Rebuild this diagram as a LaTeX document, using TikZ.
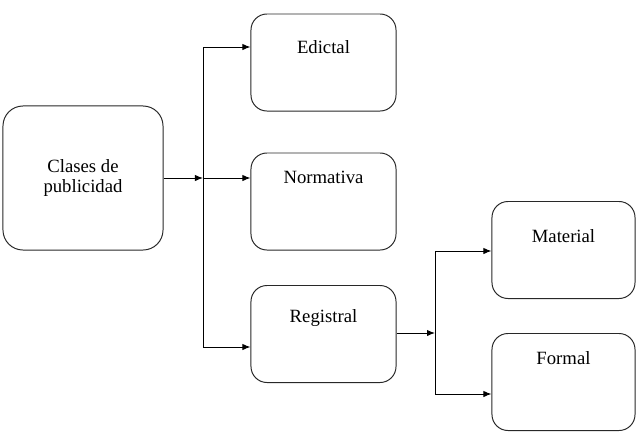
\documentclass[tikz,border=0pt]{standalone}
\usepackage{fontspec}
\setmainfont{Liberation Serif}
\usepackage{xcolor}
\definecolor{borde}{RGB}{40, 40, 40}
\usepackage{tikz}
\usetikzlibrary{arrows.meta, positioning, calc}

\tikzset{
  caja/.style={draw=borde, line width=0.7pt, rounded corners=0.4cm, inner sep=0pt,
    minimum width=3.625cm, minimum height=2.425cm, align=center,
    font=\rmfamily\fontsize{13.3}{14.7}\selectfont, text height=0.7em},
  linea/.style={line width=0.7pt},
  flecha/.style={line width=0.7pt, -{Latex[length=0.2cm, width=0.16cm]}}
}

\begin{document}
\begin{tikzpicture}[x=0.025cm, y=-0.025cm]
    \useasboundingbox (0,0) rectangle (640,443);

    % cajas
    \node[caja, minimum width=4cm, minimum height=3.6cm, rounded corners=0.5cm, text height=]
      (clases) at (83,178) {Clases de\\publicidad};
    \node[caja, text depth=0.69cm]  (edictal)   at (323.5,62.5)  {Edictal};
    \node[caja, text depth=1.125cm] (normativa) at (323.5,201.5) {Normativa};
    \node[caja, text depth=0.8cm]   (registral) at (323.5,334)   {Registral};
    \node[caja, text depth=0.6cm, minimum width=3.575cm] (material) at (563.5,250) {Material};
    \node[caja, text depth=1.14cm, minimum width=3.575cm] (formal)   at (563.5,382) {Formal};

    % puntos de union
    \coordinate (j1) at (203,178);
    \coordinate (pe) at (edictal.west |- 0,47);
    \coordinate (pn) at (normativa.west |- 0,178);
    \coordinate (pr) at (registral.west |- 0,347);
    \coordinate (j2) at (435,333);
    \coordinate (pm) at (material.west |- 0,251);
    \coordinate (pf) at (formal.west |- 0,394);

    % conectores
    \draw[flecha] (clases.east) -- (j1);
    \draw[linea] (j1 |- pe) -- (j1 |- pr);
    \draw[flecha] (j1 |- pe) -- (pe);
    \draw[flecha] (j1) -- (pn);
    \draw[flecha] (j1 |- pr) -- (pr);

    \draw[flecha] (registral.east |- j2) -- (j2);
    \draw[linea] (j2 |- pm) -- (j2 |- pf);
    \draw[flecha] (j2 |- pm) -- (pm);
    \draw[flecha] (j2 |- pf) -- (pf);
  \end{tikzpicture}
\end{document}
